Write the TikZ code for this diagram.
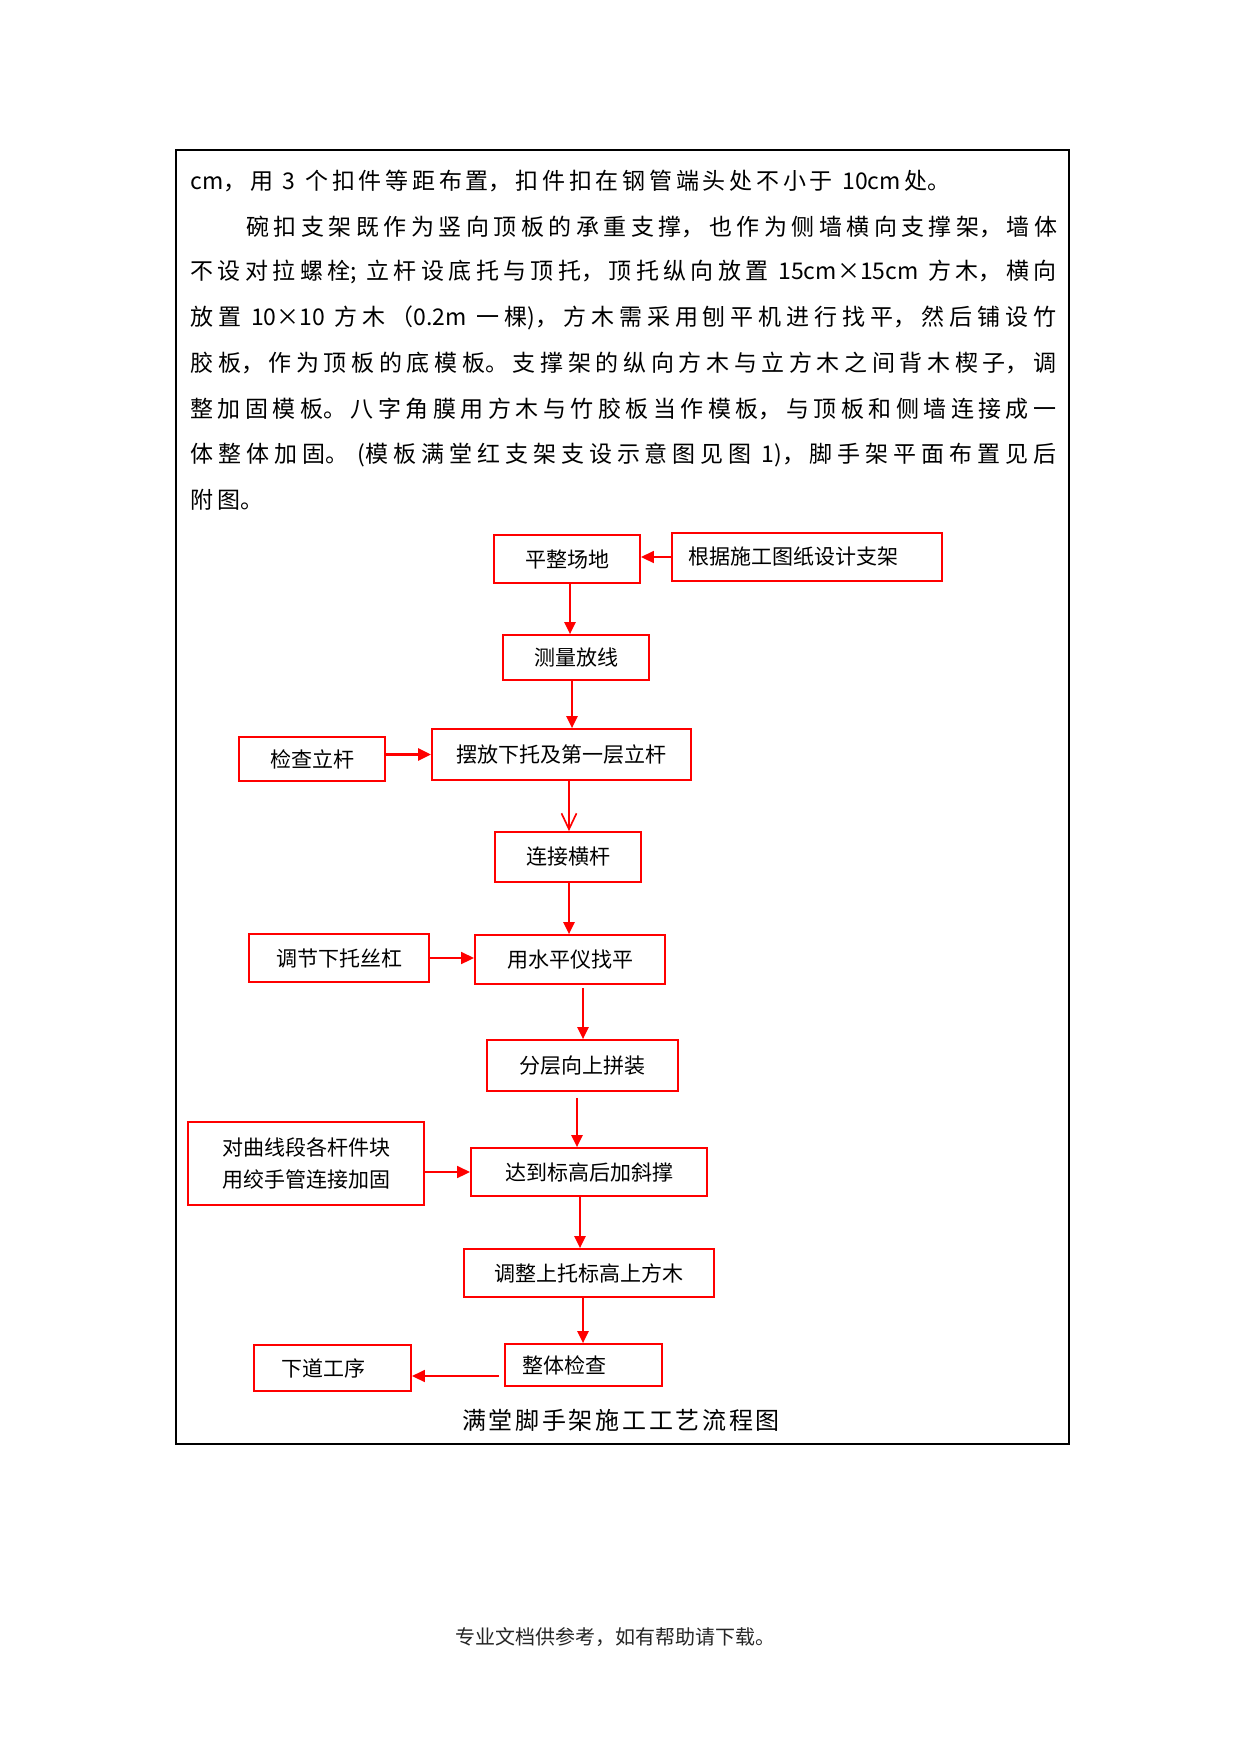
\documentclass[tikz,border=0pt]{standalone}
\usepackage{fontspec}
\newfontfamily\cjk{Noto Sans CJK SC}
\usetikzlibrary{arrows.meta,calc}
\XeTeXlinebreaklocale "zh"
\XeTeXlinebreakskip=0pt\relax
\newcommand\jline[2]{\parbox{#1}{\XeTeXlinebreakskip=0pt plus 1fil\relax\parfillskip=0pt\relax #2}}
\newcommand\nline[3]{\parbox{#1}{\XeTeXlinebreakskip=#2\relax #3}}
\newcommand\gp{\hspace{0.42em}}
\tikzset{
  para/.style={inner sep=0pt, anchor=west, text=black, font=\cjk\fontsize{11.04pt}{13pt}\selectfont},
  box/.style={draw=red, line width=0.86pt, inner sep=0pt, text=black, font=\cjk\fontsize{10.08pt}{15.4pt}\selectfont},
  bx/.style 2 args={minimum width=#1*0.48pt, minimum height=#2*0.48pt},
  arr/.style={red, line width=0.9pt, -{Triangle[length=5.8pt,width=5.4pt]}},
  arrmid/.style={red, line width=1.2pt, -{Triangle[length=6.2pt,width=5.6pt]}},
  arrthick/.style={red, line width=1.9pt, -{Triangle[length=6.2pt,width=5.6pt]}},
  vee/.style={red, line width=0.8pt, -{Straight Barb[length=7.6pt,width=7.2pt]}},
  captext/.style={inner sep=0pt, text=black, font=\cjk\fontsize{11.52pt}{14pt}\selectfont},
  foottext/.style={inner sep=0pt, text=black!85, font=\cjk\fontsize{9.6pt}{12pt}\selectfont}
}
\begin{document}
\begin{tikzpicture}[x=0.48pt,y=-0.48pt]
\useasboundingbox (0,0) rectangle (1241,1754);
\fill[white] (0,0) rectangle (1241,1754);
\draw[black, line width=0.7pt] (176,150) rectangle (1069,1444);

% paragraph
\node[para] (l1) at (190,181) {\nline{416pt}{1.8pt}{cm，用\gp 3\gp 个扣件等距布置，扣件扣在钢管端头处不小于\gp 10cm处。}};
\node[para] (l2) at (246,227) {\jline{389.3pt}{碗扣支架既作为竖向顶板的承重支撑，也作为侧墙横向支撑架，墙体}};
\node[para] (l3) at (190,272) {\jline{415.7pt}{不设对拉螺栓;\gp 立杆设底托与顶托，顶托纵向放置\gp 15cm×15cm\gp 方木，横向}};
\node[para] (l4) at (190,318) {\jline{415.7pt}{放置\gp 10×10\gp 方木（0.2m\gp 一棵)，方木需采用刨平机进行找平，然后铺设竹}};
\node[para] (l5) at (190,363) {\jline{415.7pt}{胶板，作为顶板的底模板。支撑架的纵向方木与立方木之间背木楔子，调}};
\node[para] (l6) at (190,409) {\jline{415.7pt}{整加固模板。八字角膜用方木与竹胶板当作模板，与顶板和侧墙连接成一}};
\node[para] (l7) at (190,455) {\jline{415.7pt}{体整体加固。\gp (模板满堂红支架支设示意图见图\gp 1)，脚手架平面布置见后}};
\node[para] (l8) at (190,500) {\nline{416pt}{1.8pt}{附图。}};

% flowchart boxes
\node[box, bx={146}{48}] (pz) at (567,559) {平整场地};
\node[box, bx={270}{48}, inner xsep=8.16pt, text width=113.3pt, align=left] (gj) at (807,557) {根据施工图纸设计支架};
\node[box, bx={146}{45}] (cl) at (576,657.5) {测量放线};
\node[box, bx={259}{51}] (bf) at (561.5,754.5) {摆放下托及第一层立杆};
\node[box, bx={146}{44}] (jc) at (312,759) {检查立杆};
\node[box, bx={146}{50}] (lj) at (568,857) {连接横杆};
\node[box, bx={180}{48}] (tj) at (339,958) {调节下托丝杠};
\node[box, bx={190}{49}] (ys) at (570,959.5) {用水平仪找平};
\node[box, bx={191}{51}] (fc) at (582.5,1065.5) {分层向上拼装};
\node[box, bx={236}{83}, align=center] (dq) at (306,1163.5) {对曲线段各杆件块\\用绞手管连接加固};
\node[box, bx={236}{48}] (dd) at (589,1172) {达到标高后加斜撑};
\node[box, bx={250}{48}] (tz) at (589,1273) {调整上托标高上方木};
\node[box, bx={157}{42}, inner xsep=8.16pt, text width=59.04pt, align=left] (zt) at (583.5,1365) {整体检查};
\node[box, bx={157}{46}, inner xsep=13.44pt, text width=48.5pt, align=left] (xd) at (332.5,1368) {下道工序};

% connectors
\draw[arrmid] (gj.west) -- (gj.west -| pz.east);
\draw[arr] ([shift={(3,0)}]pz.south) coordinate (a1) -- (a1 |- cl.north);
\draw[arr] ([shift={(-4,0)}]cl.south) coordinate (a2) -- (a2 |- bf.north);
\draw[arrthick] (jc.east |- bf.west) -- (bf.west);
\draw[vee] ([shift={(7.5,0)}]bf.south) coordinate (a3) -- (a3 |- lj.north);
\draw[arr] ([shift={(1,0)}]lj.south) coordinate (a4) -- (a4 |- ys.north);
\draw[arrmid] (tj.east) -- (tj.east -| ys.west);
\draw[arr] ([shift={(13,3)}]ys.south) coordinate (a5) -- (a5 |- fc.north);
\draw[arr] ([shift={(-5.5,6)}]fc.south) coordinate (a6) -- (a6 |- dd.north);
\draw[arrmid] (dq.east |- dd.west) -- (dd.west);
\draw[arr] ([shift={(-9,0)}]dd.south) coordinate (a7) -- (a7 |- tz.north);
\draw[arr] ([shift={(-6,0)}]tz.south) coordinate (a8) -- (a8 |- zt.north);
\draw[arrmid] ([shift={(-5,11)}]zt.west) coordinate (a9) -- (a9 -| xd.east);

% caption and footer
\node[captext] (cap) at (621,1420) {\parbox{158.4pt}{\centering\XeTeXlinebreakskip=1.3pt\relax 满堂脚手架施工工艺流程图}};
\node[foottext] (ft) at (615,1637) {专业文档供参考，如有帮助请下载。};
\end{tikzpicture}
\end{document}
